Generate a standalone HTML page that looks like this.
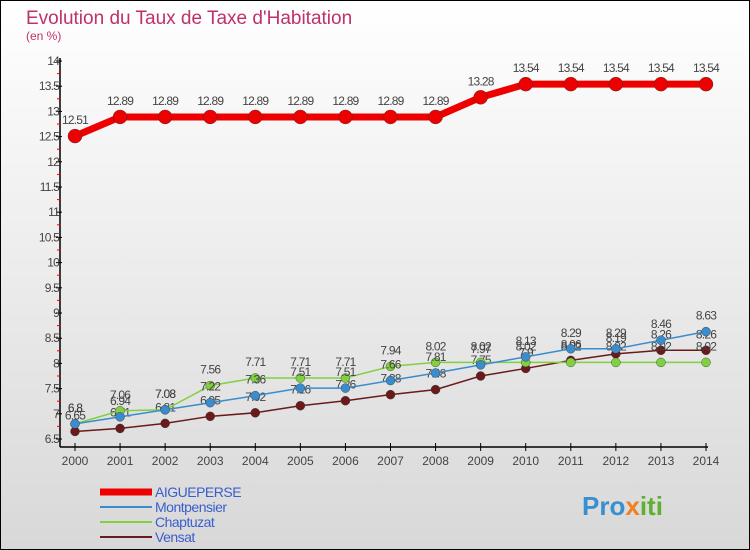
<!DOCTYPE html>
<html><head><meta charset="utf-8"><style>
body{margin:0;}
svg{display:block;font-family:"Liberation Sans",sans-serif;}
</style></head><body>
<svg id="chart" width="750" height="550" viewBox="0 0 750 550">
<defs><linearGradient id="bg" x1="0" y1="0" x2="0" y2="1"><stop offset="0" stop-color="#ffffff"/><stop offset="1" stop-color="#d8d8d8"/></linearGradient></defs>
<rect x="0.5" y="0.5" width="749" height="549" fill="url(#bg)" stroke="#000"/>
<text x="26" y="24" font-size="19" fill="#c0306a">Evolution du Taux de Taxe d'Habitation</text>
<text x="26" y="40" font-size="12" fill="#c0306a">(en %)</text>
<g id="axes"></g>
<g id="series"></g>
<g id="legend"></g>
<text x="582" y="515" font-size="26" font-weight="bold" fill="#3a8fd0">Pro<tspan fill="#f08020">x</tspan><tspan fill="#60b030">iti</tspan></text>
</svg>
<script>
const years=[2000,2001,2002,2003,2004,2005,2006,2007,2008,2009,2010,2011,2012,2013,2014];
const yTicks=[6.5,7,7.5,8,8.5,9,9.5,10,10.5,11,11.5,12,12.5,13,13.5,14];
const aigueperse=[12.51,12.89,12.89,12.89,12.89,12.89,12.89,12.89,12.89,13.28,13.54,13.54,13.54,13.54,13.54];
const montpensier=[6.8,6.94,7.08,7.22,7.36,7.51,7.51,7.66,7.81,7.97,8.13,8.29,8.29,8.46,8.63];
const chaptuzat=[6.8,7.06,7.08,7.56,7.71,7.71,7.71,7.94,8.02,8.02,8.02,8.02,8.02,8.02,8.02];
const vensat=[6.65,6.71,6.81,6.95,7.02,7.16,7.26,7.38,7.48,7.75,7.9,8.06,8.19,8.26,8.26];
const NS="http://www.w3.org/2000/svg";
const X=y=>75+(y-2000)*(706-75)/14;
const Y=v=>61+(14-v)*(439-61)/7.5;
function mk(tag,attrs,parent){const e=document.createElementNS(NS,tag);for(const k in attrs)e.setAttribute(k,attrs[k]);parent.appendChild(e);return e;}
const axes=document.getElementById('axes');
let a=mk('line',{x1:60,y1:58,x2:60,y2:447,stroke:'#000','stroke-width':1.5},axes);


a=mk('line',{x1:60,y1:447,x2:708,y2:447,stroke:'#000','stroke-width':1.5},axes);


yTicks.forEach((v,i)=>{
  mk('line',{x1:56,y1:Y(v),x2:62,y2:Y(v),stroke:'#000'},axes);
  if(i<yTicks.length-1)mk('line',{x1:57,y1:Y(v+0.25),x2:61,y2:Y(v+0.25),stroke:'#e00'},axes);
  const t=mk('text',{x:59,y:Y(v)+4,'font-size':12,'text-anchor':'end',fill:'#444','letter-spacing':'-0.8'},axes);
  t.textContent=String(v);
  
  
});
years.forEach(yr=>{
  mk('line',{x1:X(yr),y1:443,x2:X(yr),y2:451,stroke:'#000'},axes);
  const t=mk('text',{x:X(yr),y:465,'font-size':12,'text-anchor':'middle',fill:'#444'},axes);
  t.textContent=String(yr);
  
  
});
const sg=document.getElementById('series');
function series(vals,color,w,r,name){
  const g=mk('g',{},sg);
  
  
  const p=mk('polyline',{points:vals.map((v,i)=>X(years[i])+','+Y(v)).join(' '),fill:'none',stroke:color,'stroke-width':w},g);
  
  
  vals.forEach((v,i)=>{
    const c=mk('circle',{cx:X(years[i]),cy:Y(v),r:r,fill:color,stroke:'#333','stroke-width':0.4},g);
    
    
    const t=mk('text',{x:X(years[i]),y:Y(v)-12,'font-size':12,'text-anchor':'middle',fill:'#444','letter-spacing':'-0.8'},g);
    t.textContent=String(v);
    
    
  });
}
series(vensat,'#6a1a1a',1.5,4.5,'vensat');
series(chaptuzat,'#80d040',1.5,4.5,'chaptuzat');
series(montpensier,'#3a8ccc',1.5,4.5,'montpensier');
series(aigueperse,'#ee0000',7,7,'aigueperse');
const lg=document.getElementById('legend');
[['AIGUEPERSE','#ee0000',7],['Montpensier','#3a8ccc',2],['Chaptuzat','#80d040',2],['Vensat','#6a1a1a',2]].forEach((d,i)=>{
  const y=492+i*15;
  const g=mk('g',{},lg);
  
  
  mk('line',{x1:100,y1:y,x2:152,y2:y,stroke:d[1],'stroke-width':d[2]},g);
  const t=mk('text',{x:155,y:y+5,'font-size':14,fill:'#3a5fcc','letter-spacing':'-0.5'},g);
  t.textContent=d[0];
});
</script>
</body></html>
